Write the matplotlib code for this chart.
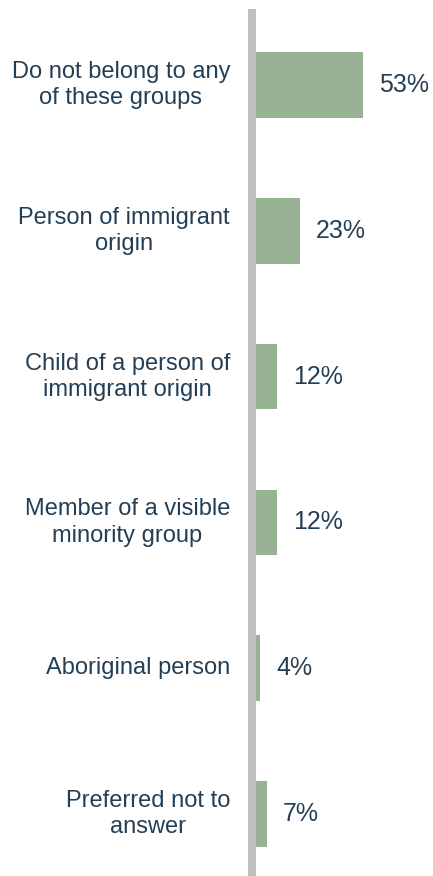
import matplotlib
matplotlib.use("Agg")
import matplotlib.pyplot as plt

categories = [
    "Do not belong to any\nof these groups",
    "Person of immigrant\norigin",
    "Child of a person of\nimmigrant origin",
    "Member of a visible\nminority group",
    "Aboriginal person",
    "Preferred not to\nanswer",
]
values = [53, 23, 12, 12, 4, 7]
value_labels = ["53%", "23%", "12%", "12%", "4%", "7%"]

W, H = 433, 876
fig = plt.figure(figsize=(W / 100, H / 100), dpi=100)
ax = fig.add_axes([252 / W, 0, 1 - 252 / W, 863 / H])
ax.set_xlim(0, (W - 252) / 2.094)
ax.set_ylim(5.425, -0.494)

text_color = "#243F55"
bar_color = "#97B393"

ypos = list(range(len(values)))
ax.barh(ypos, values, height=0.45, color=bar_color, zorder=2)
ax.axvline(0, color="#BFBFBF", linewidth=8 * 0.72, zorder=3, clip_on=False)

for y, v, lab, cat in zip(ypos, values, value_labels, categories):
    ax.annotate(lab, (v, y), xytext=(16 * 0.72, 0), textcoords="offset points",
                ha="left", va="center", fontsize=18, color=text_color,
                family="Liberation Sans")
    ax.annotate(cat, (0, y), xytext=(-22 * 0.72, 0), textcoords="offset points",
                ha="right", va="center", multialignment="center", fontsize=17,
                color=text_color, family="Liberation Sans", linespacing=1.25,
                annotation_clip=False)

ax.axis("off")
fig.savefig("out.png", dpi=100)
